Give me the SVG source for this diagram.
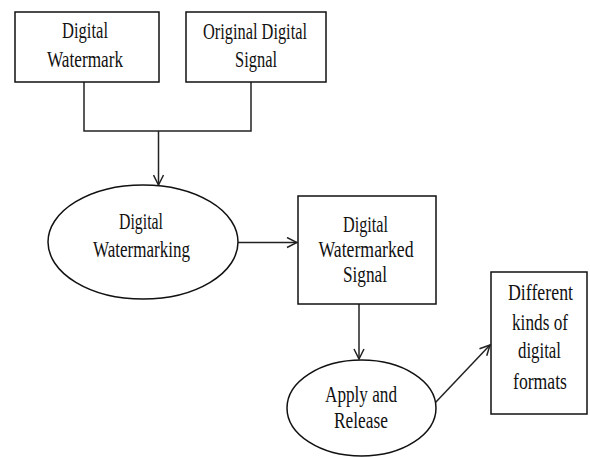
<svg xmlns="http://www.w3.org/2000/svg" width="590" height="457" viewBox="0 0 590 457">
<style>
.box{fill:#fff;stroke:#111;stroke-width:1.5}
.lbl{font-family:"Liberation Serif","Times New Roman",serif;font-size:23px;fill:#111;text-anchor:middle}
.con{fill:none;stroke:#222;stroke-width:1.5}
</style>
<defs>
<marker id="arr" viewBox="0 0 12 12" refX="11" refY="6" markerWidth="12" markerHeight="12" markerUnits="userSpaceOnUse" orient="auto">
<path d="M1,1 L11,6 L1,11" fill="none" stroke="#222" stroke-width="1.5"/>
</marker>
</defs>
<rect width="590" height="457" fill="#fff"/>
<g id="connectors">
<polyline class="con" points="84,82 84,131 251,131 251,82"/>
<line class="con" x1="158.5" y1="131" x2="158.5" y2="185" marker-end="url(#arr)"/>
<line class="con" x1="237" y1="242.5" x2="297" y2="242.5" marker-end="url(#arr)"/>
<line class="con" x1="359" y1="304" x2="359" y2="359" marker-end="url(#arr)"/>
<line class="con" x1="435" y1="403" x2="490" y2="345" marker-end="url(#arr)"/>
</g>
<g id="digital-watermark">
<rect class="box" x="15" y="12" width="144" height="70"/>
<text class="lbl" x="85" y="38" textLength="46" lengthAdjust="spacingAndGlyphs">Digital</text>
<text class="lbl" x="85" y="67" textLength="76" lengthAdjust="spacingAndGlyphs">Watermark</text>
</g>
<g id="original-digital-signal">
<rect class="box" x="186" y="12" width="140" height="70"/>
<text class="lbl" x="255" y="39" textLength="104" lengthAdjust="spacingAndGlyphs">Original Digital</text>
<text class="lbl" x="256" y="67" textLength="42" lengthAdjust="spacingAndGlyphs">Signal</text>
</g>
<g id="digital-watermarking">
<ellipse class="box" cx="143" cy="242" rx="95" ry="57"/>
<text class="lbl" x="141" y="229" textLength="44" lengthAdjust="spacingAndGlyphs">Digital</text>
<text class="lbl" x="141.5" y="257" textLength="97" lengthAdjust="spacingAndGlyphs">Watermarking</text>
</g>
<g id="digital-watermarked-signal">
<rect class="box" x="298" y="196" width="138" height="108"/>
<text class="lbl" x="365.5" y="232" textLength="45" lengthAdjust="spacingAndGlyphs">Digital</text>
<text class="lbl" x="366" y="257" textLength="95" lengthAdjust="spacingAndGlyphs">Watermarked</text>
<text class="lbl" x="365" y="282" textLength="44" lengthAdjust="spacingAndGlyphs">Signal</text>
</g>
<g id="apply-and-release">
<ellipse class="box" cx="361.5" cy="408" rx="74.5" ry="48"/>
<text class="lbl" x="361" y="402" textLength="72" lengthAdjust="spacingAndGlyphs">Apply and</text>
<text class="lbl" x="361" y="428" textLength="54" lengthAdjust="spacingAndGlyphs">Release</text>
</g>
<g id="different-kinds">
<rect class="box" x="491" y="272" width="96" height="142"/>
<text class="lbl" x="540.5" y="300" textLength="65" lengthAdjust="spacingAndGlyphs">Different</text>
<text class="lbl" x="540" y="330" textLength="56" lengthAdjust="spacingAndGlyphs">kinds of</text>
<text class="lbl" x="539.5" y="358" textLength="43" lengthAdjust="spacingAndGlyphs">digital</text>
<text class="lbl" x="540" y="389" textLength="54" lengthAdjust="spacingAndGlyphs">formats</text>
</g>
</svg>
